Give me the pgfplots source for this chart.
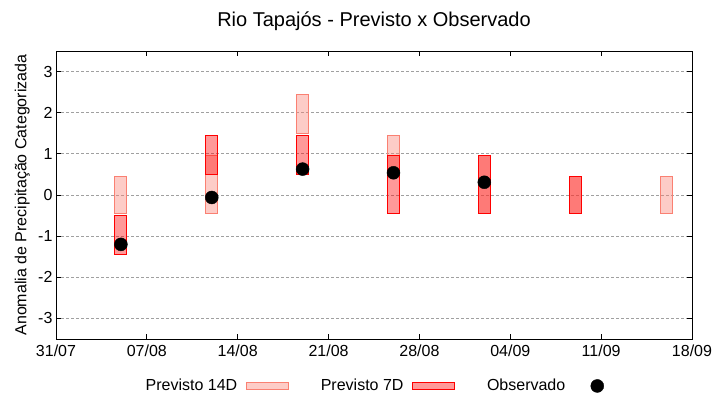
\documentclass[border=0pt]{standalone}
\usepackage{fontspec}
\setmainfont{Liberation Sans}
\usepackage{pgfplots}
\pgfplotsset{compat=1.18}

\definecolor{salmao}{RGB}{250,128,114}
\definecolor{grade}{RGB}{160,160,160}

% caixa: estilo, dia, limite inferior, limite superior
\newcommand{\caixa}[4]{%
  \pgfmathsetmacro\xa{#2-0.46}\pgfmathsetmacro\xb{#2+0.46}%
  \addplot[#1, forget plot] coordinates {(\xa,#3) (\xb,#3) (\xb,#4) (\xa,#4)} -- cycle;}

\tikzset{
  p14/.style={draw=salmao, line width=1pt, fill=salmao, fill opacity=0.4},
  p7/.style={draw=red, line width=1pt, fill=red, fill opacity=0.4},
}

\begin{document}
\begin{tikzpicture}
\begin{axis}[
  scale only axis,
  width=636pt, height=288pt,
  xmin=0, xmax=49,
  ymin=-3.5, ymax=3.5,
  xtick={0,7,14,21,28,35,42,49},
  xticklabels={31/07,07/08,14/08,21/08,28/08,04/09,11/09,18/09},
  ytick={-3,-2,-1,0,1,2,3},
  ymajorgrids=true,
  grid style={grade, line width=0.8pt, dash pattern=on 2.5pt off 2.5pt},
  axis line style={line width=0.9pt},
  major tick length=5pt,
  every tick/.style={black, line width=0.9pt},
  /pgf/number format/assume math mode=true,
  tick label style={font=\fontsize{16}{18}\selectfont},
  xticklabel style={yshift=-2pt},
  ylabel={Anomalia de Precipitação Categorizada},
  ylabel style={font=\fontsize{16}{18}\selectfont, at={(axis description cs:-0.053,0.5)}, anchor=center},
  title={Rio Tapajós - Previsto x Observado},
  title style={font=\fontsize{20}{22}\selectfont, at={(axis description cs:0.5,1)}, anchor=center, yshift=24pt},
  legend plot pos=right,
  legend columns=3,
  legend style={draw=none, fill=none, at={(axis description cs:0.5,-0.163)}, anchor=center,
    font=\fontsize{16}{18}\selectfont,
    /tikz/every even column/.append style={column sep=30pt}},
]
\addlegendimage{legend image code/.code={\path[draw=none, fill=none] (0pt,-4pt) rectangle (49pt,4pt);
  \draw[p14] (7pt,-3.5pt) rectangle (49pt,3.5pt);}}
\addlegendentry{Previsto 14D}
\addlegendimage{legend image code/.code={\path[draw=none, fill=none] (0pt,-4pt) rectangle (49pt,4pt);
  \draw[p7] (7pt,-3.5pt) rectangle (49pt,3.5pt);}}
\addlegendentry{Previsto 7D}
\addlegendimage{legend image code/.code={\path[draw=none, fill=none] (0pt,-4pt) rectangle (37pt,4pt);
  \fill[black] (30pt,0pt) circle (6.5pt);}}
\addlegendentry{Observado}

% Previsto 14D
\caixa{p14}{5}{-0.45}{0.45}
\caixa{p14}{12}{-0.45}{0.95}
\caixa{p14}{19}{1.5}{2.45}
\caixa{p14}{26}{0.45}{1.45}
\caixa{p14}{33}{-0.45}{0.95}
\caixa{p14}{40}{-0.45}{0.45}
\caixa{p14}{47}{-0.45}{0.45}
% Previsto 7D
\caixa{p7}{5}{-1.45}{-0.5}
\caixa{p7}{12}{0.5}{1.45}
\caixa{p7}{19}{0.5}{1.45}
\caixa{p7}{26}{-0.45}{0.95}
\caixa{p7}{33}{-0.45}{0.95}
\caixa{p7}{40}{-0.45}{0.45}
% Observado
\addplot[only marks, mark=*, mark size=6.5pt, black, forget plot] coordinates {
  (5,-1.2) (12,-0.06) (19,0.63) (26,0.54) (33,0.31)
};
\end{axis}
\path (current axis.south west) ++(-56pt,-61pt) rectangle ++(720pt,400pt);
\end{tikzpicture}
\end{document}
